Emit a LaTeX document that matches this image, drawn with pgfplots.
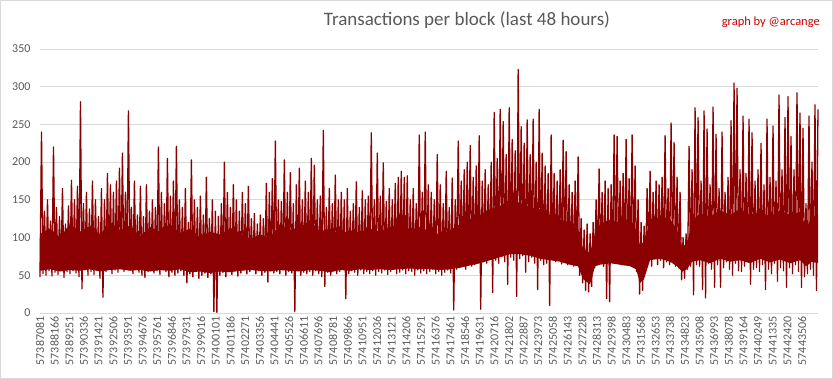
\documentclass[border=0pt]{standalone}
\usepackage{pgfplots}
\usepackage{pgfplotstable}
\pgfplotsset{compat=1.18}
\usepackage{fontspec}
\setmainfont{Carlito}
\definecolor{series}{RGB}{139,0,0}
\definecolor{gridc}{RGB}{217,217,217}
\definecolor{txt}{RGB}{89,89,89}
\definecolor{sig}{RGB}{204,0,0}
\pgfplotstableread[row sep=\\]{y\\
48\\240\\52\\135\\50\\150\\56\\122\\49\\220\\54\\140\\51\\128\\58\\165\\47\\118\\55\\142\\
52\\176\\56\\150\\53\\168\\48\\280\\32\\145\\57\\160\\50\\138\\55\\175\\51\\150\\58\\128\\
46\\165\\21\\150\\55\\185\\60\\170\\52\\160\\57\\175\\54\\192\\60\\212\\55\\160\\58\\268\\
57\\140\\52\\175\\60\\130\\54\\168\\50\\128\\47\\170\\55\\135\\58\\150\\53\\140\\56\\220\\
51\\160\\57\\145\\55\\205\\48\\155\\54\\175\\50\\221\\53\\150\\56\\140\\50\\165\\40\\120\\
52\\203\\48\\150\\55\\140\\46\\155\\50\\130\\53\\180\\47\\125\\52\\150\\2\\135\\1\\128\\
50\\145\\54\\200\\48\\160\\55\\140\\51\\170\\56\\150\\49\\135\\53\\160\\57\\145\\52\\168\\
55\\125\\58\\132\\52\\118\\56\\130\\50\\125\\54\\172\\41\\160\\57\\178\\53\\228\\55\\150\\
52\\148\\57\\203\\50\\160\\55\\186\\53\\145\\2\\170\\56\\192\\50\\150\\54\\175\\52\\160\\
55\\205\\50\\196\\56\\150\\52\\155\\48\\242\\35\\140\\54\\165\\50\\145\\56\\183\\52\\150\\
55\\160\\58\\150\\19\\165\\52\\135\\56\\145\\54\\174\\50\\140\\57\\162\\52\\150\\55\\155\\
52\\239\\56\\150\\50\\212\\55\\155\\53\\199\\57\\148\\51\\165\\55\\150\\58\\172\\52\\180\\
54\\188\\57\\180\\52\\182\\56\\150\\55\\165\\50\\145\\57\\236\\53\\160\\56\\240\\52\\170\\
55\\160\\58\\150\\52\\210\\55\\170\\50\\145\\54\\188\\57\\140\\53\\179\\4\\150\\58\\228\\
60\\175\\64\\190\\58\\200\\66\\222\\62\\180\\64\\195\\66\\235\\5\\175\\68\\190\\66\\170\\
72\\200\\27\\266\\70\\205\\66\\270\\75\\254\\68\\210\\38\\272\\74\\230\\70\\215\\22\\323\\
72\\247\\76\\225\\54\\256\\68\\210\\74\\257\\66\\200\\31\\270\\70\\212\\64\\195\\66\\185\\
10\\236\\72\\185\\68\\175\\70\\190\\65\\229\\68\\214\\64\\170\\66\\160\\62\\175\\65\\207\\
50\\125\\40\\110\\30\\118\\28\\105\\35\\120\\60\\150\\65\\191\\68\\160\\62\\175\\19\\165\\
15\\170\\68\\236\\70\\234\\66\\175\\68\\185\\64\\230\\70\\178\\66\\236\\62\\195\\55\\150\\
25\\120\\30\\115\\66\\165\\72\\188\\62\\160\\74\\175\\64\\170\\70\\180\\60\\235\\68\\165\\
64\\252\\72\\226\\62\\180\\60\\160\\44\\100\\46\\105\\58\\221\\62\\190\\24\\272\\64\\259\\
62\\175\\31\\268\\20\\244\\66\\170\\58\\273\\34\\237\\64\\165\\34\\240\\60\\160\\68\\180\\
58\\255\\50\\305\\66\\298\\56\\190\\55\\261\\62\\185\\70\\257\\38\\239\\58\\175\\60\\190\\
55\\225\\64\\170\\31\\257\\58\\180\\52\\248\\66\\175\\42\\289\\60\\190\\56\\259\\34\\287\\
60\\234\\52\\190\\64\\292\\55\\265\\34\\245\\48\\145\\52\\261\\58\\200\\50\\276\\30\\270\\
}\txdata
\begin{document}
\begin{tikzpicture}
\path[use as bounding box] (-40pt,-66pt) rectangle (793pt,313pt);
\draw[gridc] (-39.5pt,-65.5pt) rectangle (792.5pt,312.5pt);
\begin{axis}[
  at={(0pt,0pt)}, anchor=south west,
  scale only axis, width=778pt, height=264pt,
  xmin=0, xmax=57600, ymin=0, ymax=350,
  axis line style={draw=none},
  major tick length=0pt,
  scaled x ticks=false,
  ymajorgrids, grid style={gridc, line width=0.8pt},
  ytick={0,50,...,350},
  /pgf/number format/assume math mode=true,
  yticklabel style={font=\fontsize{12}{14}\selectfont, text=txt, xshift=-6pt},
  xtick={0,1085,...,56420},
  xticklabels={57387081,57388166,57389251,57390336,57391421,57392506,57393591,57394676,57395761,57396846,57397931,57399016,57400101,57401186,57402271,57403356,57404441,57405526,57406611,57407696,57408781,57409866,57410951,57412036,57413121,57414206,57415291,57416376,57417461,57418546,57419631,57420716,57421802,57422887,57423973,57425058,57426143,57427228,57428313,57429398,57430483,57431568,57432653,57433738,57434823,57435908,57436993,57438078,57439164,57440249,57441335,57442420,57443506},
  xticklabel style={rotate=90, anchor=east, font=\fontsize{12}{14}\selectfont, text=txt},
  clip=false,
]
% dense core of the band: upper edge left to right, lower edge right to left
\addplot[draw=none, fill=series, mark=none] coordinates {
(0,105) (740,112) (1481,100) (2221,118) (2962,108) (3702,115) (4442,104) (5183,120) (5923,110) (6664,116)
(7404,102) (8144,114) (8885,108) (9625,118) (10366,106) (11106,112) (11846,100) (12587,108) (13327,104) (14068,112)
(14808,106) (15548,98) (16289,104) (17029,100) (17770,118) (18510,110) (19250,114) (19991,122) (20731,108) (21472,112)
(22212,104) (22952,110) (23693,106) (24433,112) (25174,108) (25914,114) (26654,118) (27395,110) (28135,114) (28876,108)
(29616,104) (30356,110) (31097,118) (31837,124) (32578,130) (33318,138) (34058,142) (34799,150) (35539,146) (36280,140)
(37020,138) (37760,130) (38501,124) (39241,120) (39834,112) (40204,85) (40722,80) (41092,105) (41462,118) (42203,124)
(42943,120) (43684,126) (44128,110) (44424,90) (44720,95) (45164,120) (45905,128) (46645,125) (47163,110) (47534,88)
(47904,92) (48274,122) (48866,132) (49607,128) (50347,136) (51088,130) (51828,138) (52568,130) (53309,134) (54049,128)
(54790,136) (55530,130) (56270,134) (56714,112) (57159,128) (57600,130)
(57600,66) (57159,68) (56714,62) (56270,70) (55530,66) (54790,71) (54049,67) (53309,72) (52568,66) (51828,70)
(51088,68) (50347,72) (49607,66) (48866,70) (48274,68) (47904,58) (47534,55) (47163,62) (46645,68) (45905,72)
(45164,70) (44720,45) (44424,40) (44128,58) (43684,62) (42943,64) (42203,66) (41462,64) (41092,62) (40722,38)
(40204,45) (39834,62) (39241,64) (38501,68) (37760,70) (37020,72) (36280,76) (35539,78) (34799,78) (34058,74)
(33318,70) (32578,66) (31837,63) (31097,60) (30356,58) (29616,57) (28876,58) (28135,58) (27395,59) (26654,58)
(25914,57) (25174,58) (24433,57) (23693,58) (22952,56) (22212,57) (21472,54) (20731,56) (19991,57) (19250,55)
(18510,56) (17770,57) (17029,55) (16289,56) (15548,57) (14808,56) (14068,54) (13327,55) (12587,53) (11846,55)
(11106,54) (10366,58) (9625,56) (8885,57) (8144,55) (7404,57) (6664,56) (5923,58) (5183,57) (4442,55)
(3702,58) (2962,56) (2221,57) (1481,55) (740,58) (0,56)
};
\addplot[series, line width=1.3pt, line join=round, mark=none] table[x expr=\coordindex*110.98, y=y] {\txdata};
\end{axis}
\node[font=\fontsize{19}{22}\selectfont, text=txt] at (427pt,293pt) {Transactions per block (last 48 hours)};
\node[font=\fontsize{12.5}{14}\selectfont, text=sig, anchor=east, inner sep=0pt] at (780pt,291pt) {graph by @arcange};
\end{tikzpicture}
\end{document}
